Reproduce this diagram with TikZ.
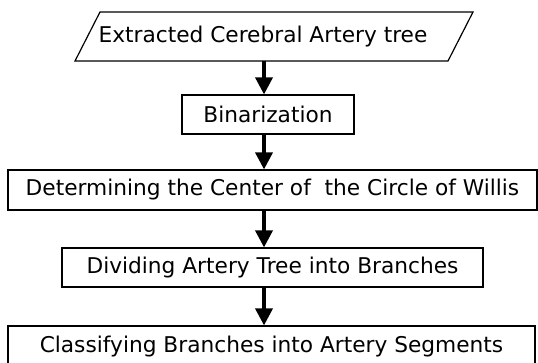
\documentclass[tikz,border=0pt]{standalone}
\usepackage{fontspec}
\setmainfont{DejaVu Sans}
\usetikzlibrary{arrows.meta}
\begin{document}
\begin{tikzpicture}[x=1pt,y=-1pt,
  stepbox/.style={draw, line width=1.2pt, inner sep=0pt, anchor=center,
    font=\fontsize{21.7}{26}\selectfont},
  flowarrow/.style={line width=3.6pt, -{Triangle[length=17pt,width=17pt]}},
  lbl/.style={inner sep=0pt, font=\fontsize{21.7}{26}\selectfont}]
\useasboundingbox (0,0) rectangle (538,362);
\clip (0,0) rectangle (538,362);
% input parallelogram
\coordinate (ptl) at (100,12);
\coordinate (ptr) at (473,12);
\coordinate (pbr) at (448,61);
\coordinate (pbl) at (75,61);
\draw[line width=1.2pt, line join=miter] (ptl) -- (ptr) -- (pbr) -- (pbl) -- cycle;
\node[lbl] (ext) at (263,37) {Extracted Cerebral Artery tree};
\coordinate (pbot) at (264,61);
% process boxes
\node[stepbox, minimum width=172pt, minimum height=39pt] (bin) at (268,114.5) {Binarization};
\node[stepbox, minimum width=529pt, minimum height=40pt] (det) at (272.5,190) {Determining the Center of \ the Circle of Willis};
\node[stepbox, minimum width=421pt, minimum height=39pt] (div) at (272.5,267.5) {Dividing Artery Tree into Branches};
\node[stepbox, minimum width=527pt, minimum height=42pt] (cls) at (271.5,347) {Classifying Branches into Artery Segments};
\coordinate (ax) at (264,0);
% connectors
\draw[flowarrow] (pbot) -- (bin.north -| ax);
\draw[flowarrow] (bin.south -| ax) -- (det.north -| ax);
\draw[flowarrow] (det.south -| ax) -- (div.north -| ax);
\draw[flowarrow] (div.south -| ax) -- (cls.north -| ax);
\end{tikzpicture}
\end{document}
